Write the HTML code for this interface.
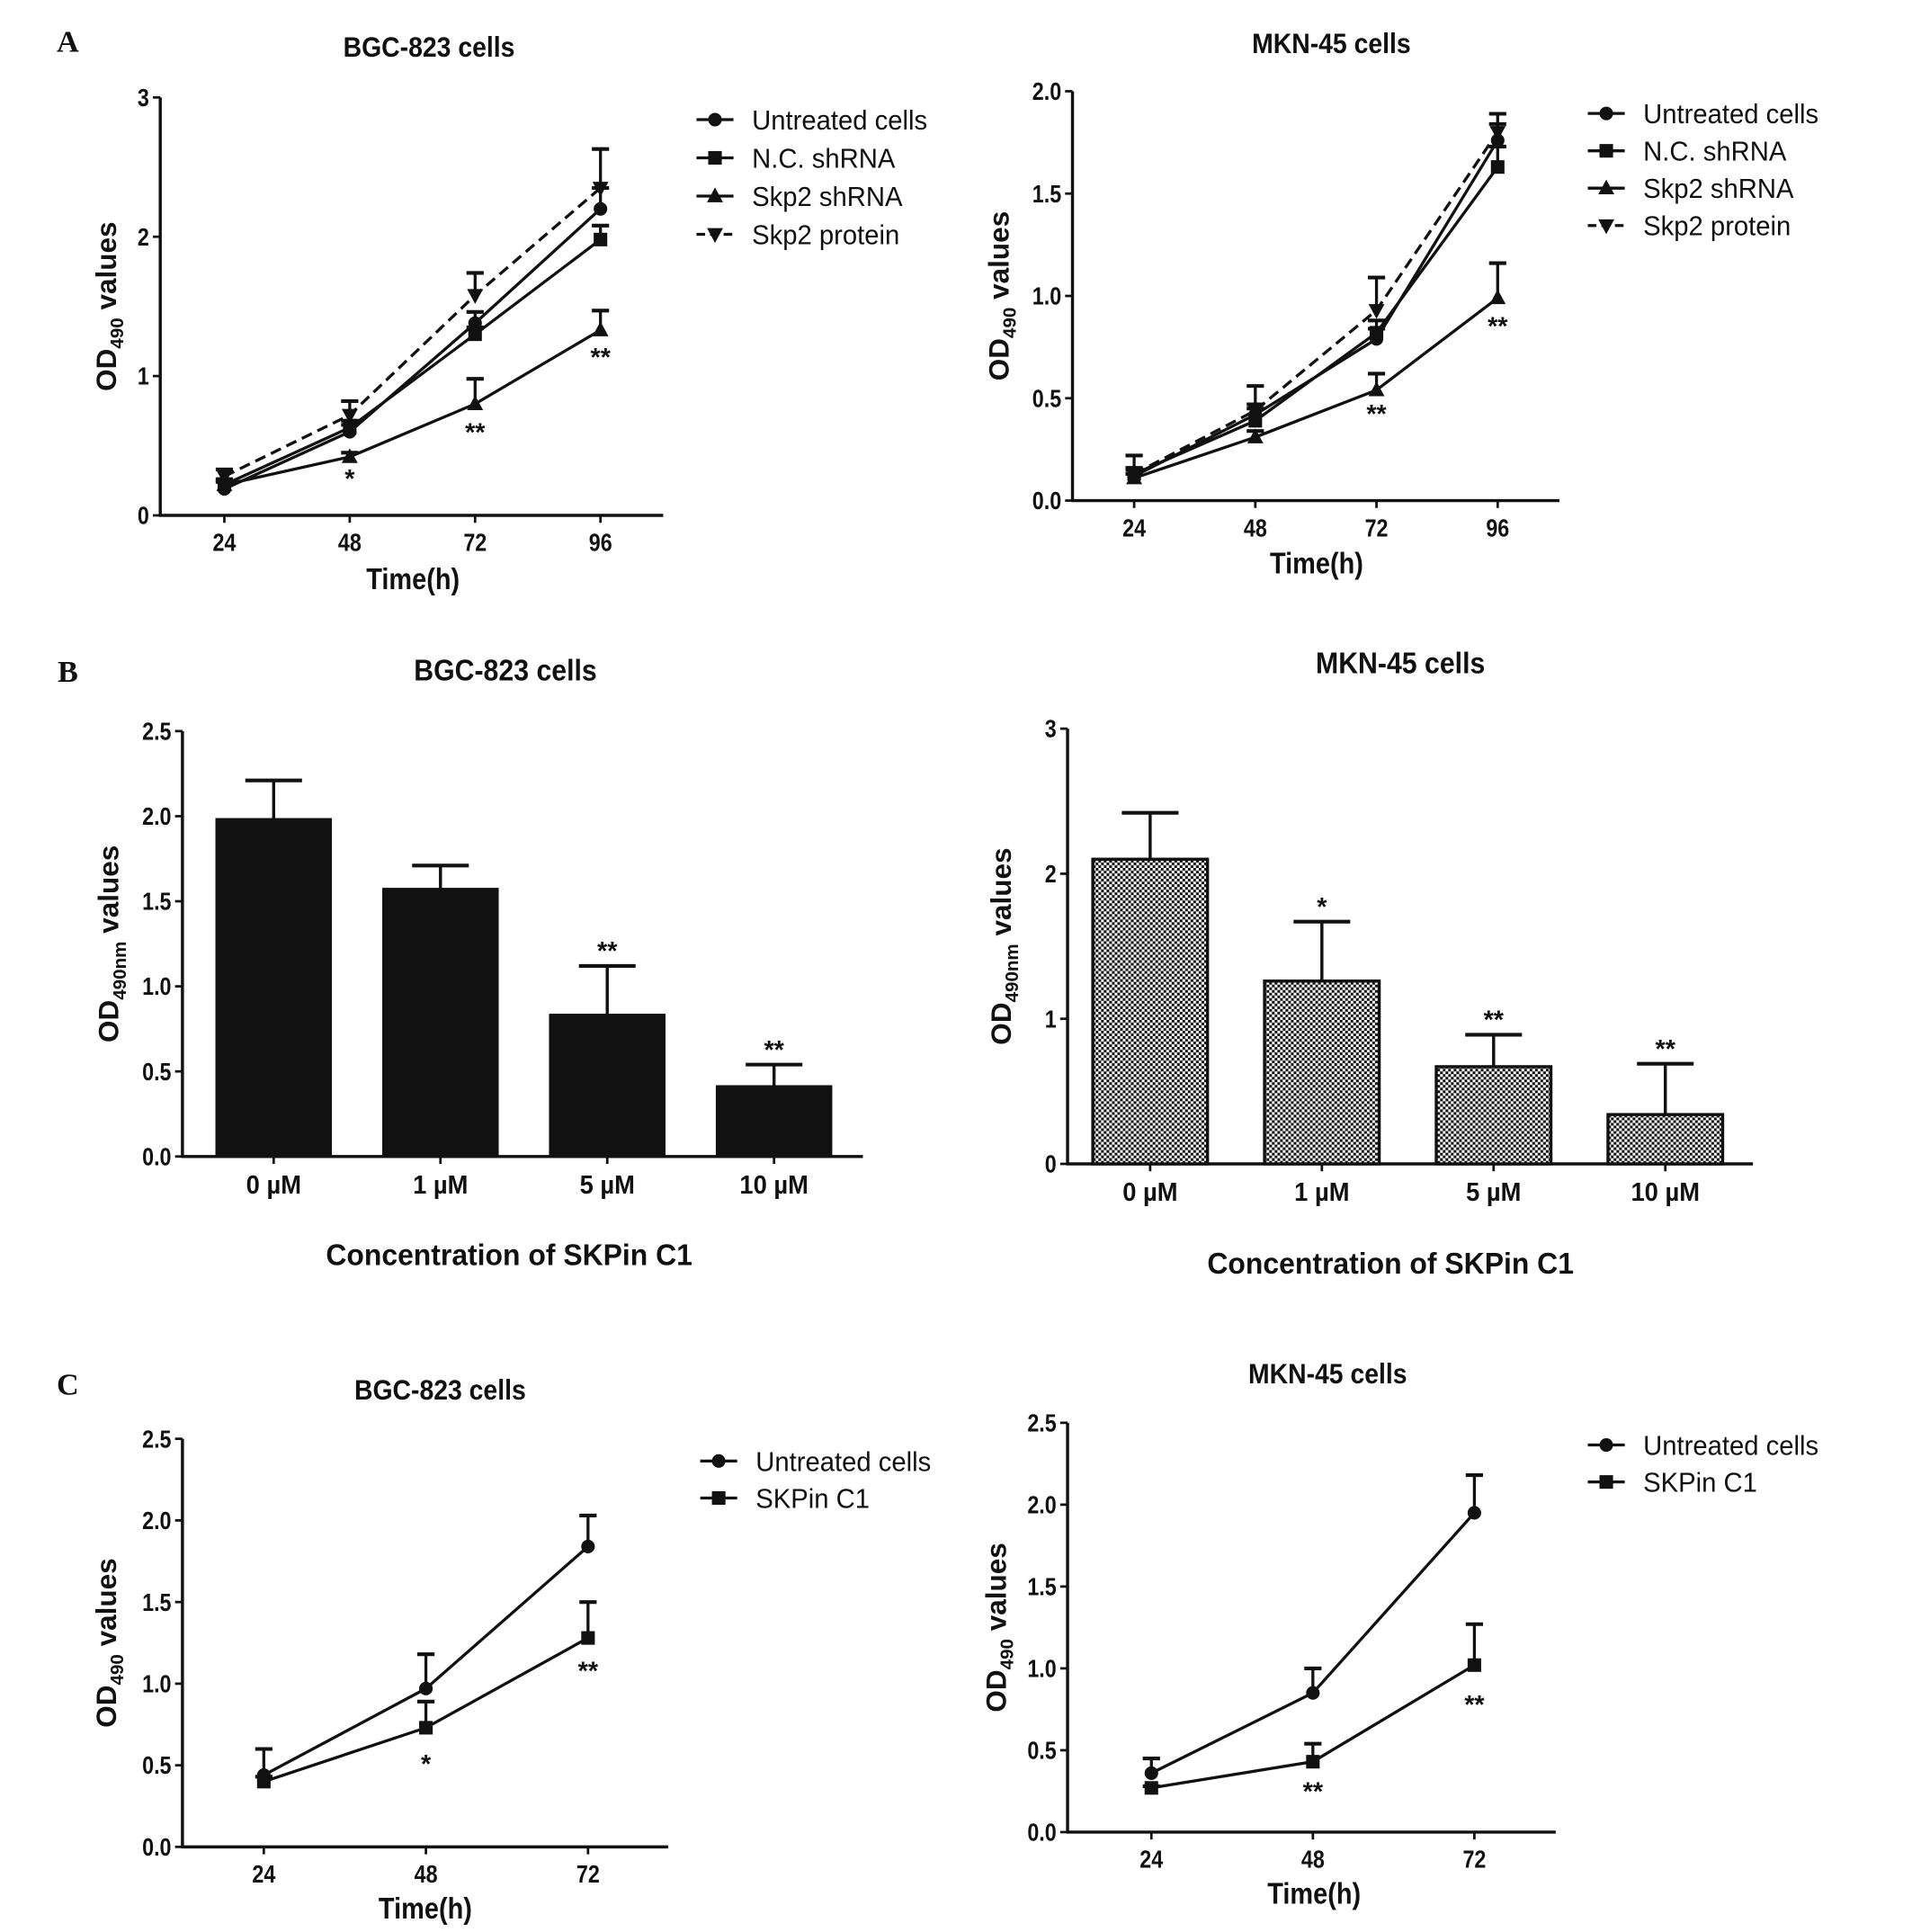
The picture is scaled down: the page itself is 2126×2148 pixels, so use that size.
<!DOCTYPE html>
<html><head><meta charset="utf-8">
<style>
html,body{margin:0;padding:0;background:#fff;}
svg{display:block;font-family:"Liberation Sans",Arial,sans-serif;}
</style></head>
<body>
<svg id="fig" width="2126" height="2148" viewBox="0 0 1551 1567" xmlns="http://www.w3.org/2000/svg">
<defs>
<pattern id="checker" width="4.4" height="4.4" patternUnits="userSpaceOnUse">
<rect width="4.4" height="4.4" fill="#fff"/>
<rect width="2.2" height="2.2" fill="#111"/>
<rect x="2.2" y="2.2" width="2.2" height="2.2" fill="#111"/>
</pattern>
</defs>
</svg>
<script>
// ---------- Data ----------
const timesA = ["24","48","72","96"];
const seriesNamesA = ["Untreated cells","N.C. shRNA","Skp2 shRNA","Skp2 protein"];
const a1Untreated = [0.19,0.60,1.38,2.20];
const a1UntreatedErr = [0.05,0.05,0.08,0.15];
const a1NC = [0.22,0.63,1.30,1.98];
const a1NCErr = [0.04,0.05,0.05,0.10];
const a1Skp2sh = [0.22,0.42,0.80,1.33];
const a1Skp2shErr = [0.03,0.03,0.18,0.14];
const a1Protein = [0.28,0.72,1.58,2.35];
const a1ProteinErr = [0.05,0.10,0.16,0.28];
const a1Stars = ["","*","**","**"];
const a1StarVals = [0,0.29,0.62,1.16];
const a1Ticks = [0,1,2,3];

const a2Untreated = [0.12,0.42,0.79,1.76];
const a2UntreatedErr = [0.03,0.05,0.05,0.08];
const a2NC = [0.13,0.39,0.82,1.63];
const a2NCErr = [0.03,0.06,0.06,0.1];
const a2Skp2sh = [0.11,0.31,0.54,0.99];
const a2Skp2shErr = [0.02,0.03,0.08,0.17];
const a2Protein = [0.13,0.44,0.93,1.80];
const a2ProteinErr = [0.09,0.12,0.16,0.09];
const a2Stars = ["","","**","**"];
const a2StarVals = [0,0,0.44,0.87];
const a2Ticks = [0,0.5,1.0,1.5,2.0];

const concB = ["0 µM","1 µM","5 µM","10 µM"];
const b1Vals = [1.98,1.57,0.83,0.41];
const b1Errs = [0.23,0.14,0.29,0.13];
const b1Stars = ["","","**","**"];
const b1Ticks = [0,0.5,1.0,1.5,2.0,2.5];
const b2Vals = [2.10,1.26,0.67,0.34];
const b2Errs = [0.32,0.41,0.22,0.35];
const b2Stars = ["","*","**","**"];
const b2Ticks = [0,1,2,3];

const timesC = ["24","48","72"];
const seriesNamesC = ["Untreated cells","SKPin C1"];
const c1Untreated = [0.44,0.97,1.84];
const c1UntreatedErr = [0.16,0.21,0.19];
const c1Skpin = [0.40,0.73,1.28];
const c1SkpinErr = [0.03,0.16,0.22];
const c1Stars = ["","*","**"];
const c1StarVals = [0,0.53,1.10];
const c2Untreated = [0.36,0.85,1.95];
const c2UntreatedErr = [0.09,0.15,0.23];
const c2Skpin = [0.27,0.43,1.02];
const c2SkpinErr = [0.01,0.11,0.25];
const c2Stars = ["","**","**"];
const c2StarVals = [0,0.27,0.80];
const cTicks = [0,0.5,1.0,1.5,2.0,2.5];

// ---------- Helpers ----------
const NS="http://www.w3.org/2000/svg";
const svg=document.getElementById('fig');
function el(tag,attrs,parent){const e=document.createElementNS(NS,tag);for(const k in attrs)e.setAttribute(k,attrs[k]);(parent||svg).appendChild(e);return e;}
function txt(parent,x,y,s,size,weight,anchor,sx,name){
  const t=el('text',{transform:`translate(${x},${y}) scale(${sx},1)`,'font-size':size,'font-weight':weight,'text-anchor':anchor,fill:'#111'},parent);
  t.textContent=s;
  
  
  return t;
}
function ylabel(parent,x,y,sub,name){
  const t=el('text',{transform:`translate(${x},${y}) rotate(-90)`,'font-size':23,'font-weight':'bold','text-anchor':'middle',fill:'#111'},parent);
  
  
  const a=el('tspan',{},t);a.textContent='OD';
  const b=el('tspan',{'font-size':15,dy:6},t);b.textContent=sub;
  const c=el('tspan',{dy:-6},t);c.textContent=' values';
}
function marker(parent,type,x,y,name){
  let m;
  if(type==='circle') m=el('circle',{cx:x,cy:y,r:5.5,fill:'#111'},parent);
  else if(type==='square') m=el('rect',{x:x-5.5,y:y-5.5,width:11,height:11,fill:'#111'},parent);
  else if(type==='tri') m=el('polygon',{points:`${x},${y-7} ${x-6.5},${y+5} ${x+6.5},${y+5}`,fill:'#111'},parent);
  else m=el('polygon',{points:`${x},${y+7} ${x-6.5},${y-5} ${x+6.5},${y-5}`,fill:'#111'},parent);
  
  
}
function axes(g,cfg){
  const {x0,x1,yTop,yBot,ymax,ticks,tickFmt}=cfg;
  const ys=v=>yBot-(v/ymax)*(yBot-yTop);
  const ya=el('line',{x1:x0,y1:yTop,x2:x0,y2:yBot+1,stroke:'#111','stroke-width':2.5},g);
  
  const xa=el('line',{x1:x0-1,y1:yBot,x2:x1,y2:yBot,stroke:'#111','stroke-width':2.5},g);
  
  ticks.forEach(v=>{
    el('line',{x1:x0-6,y1:ys(v),x2:x0,y2:ys(v),stroke:'#111','stroke-width':2},g);
    txt(g,x0-9,ys(v)+7,tickFmt(v),20,'bold','end',0.85,'y-tick-label');
  });
  return ys;
}
function lineChart(cfg){
  const g=el('g',{});
  
  
  const ys=axes(g,cfg);
  const xs=i=>cfg.xFirst+i*cfg.xStep;
  cfg.cats.forEach((c,i)=>{
    el('line',{x1:xs(i),y1:cfg.yBot,x2:xs(i),y2:cfg.yBot+6,stroke:'#111','stroke-width':2},g);
    txt(g,xs(i),cfg.yBot+29,c,20,'bold','middle',0.85,'x-tick-label');
  });
  cfg.series.forEach(s=>{
    const sg=el('g',{},g);
    
    
    const pts=s.vals.map((v,i)=>`${xs(i)},${ys(v)}`).join(' ');
    el('polyline',{points:pts,fill:'none',stroke:'#111','stroke-width':2.4,'stroke-dasharray':s.dash?'9,5':'none'},sg);
    s.vals.forEach((v,i)=>{
      const top=ys(v+s.errs[i]);
      el('line',{x1:xs(i),y1:ys(v),x2:xs(i),y2:top,stroke:'#111','stroke-width':2.4},sg);
      el('line',{x1:xs(i)-7,y1:top,x2:xs(i)+7,y2:top,stroke:'#111','stroke-width':3},sg);
      marker(sg,s.marker,xs(i),ys(v),'point-'+s.key);
    });
  });
  cfg.stars.forEach((s,i)=>{ if(s) txt(g,xs(i),ys(cfg.starVals[i])+10,s,21,'bold','middle',1,'significance-mark'); });
  txt(g,cfg.titleX,cfg.titleY,cfg.title,23,'bold','middle',0.9,'chart-title');
  txt(g,cfg.xTitleX,cfg.xTitleY,'Time(h)',24,'bold','middle',0.88,'x-axis-title');
  ylabel(g,cfg.yLabX,(cfg.yTop+cfg.yBot)/2,'490','y-axis-title');
  const lg=el('g',{},g);
  
  
  cfg.series.forEach((s,i)=>{
    const y=cfg.legY+i*cfg.legStep;
    const e=el('g',{},lg);
    
    
    el('line',{x1:cfg.legX-15,y1:y,x2:cfg.legX+15,y2:y,stroke:'#111','stroke-width':2.4,'stroke-dasharray':s.dash?'7,4':'none'},e);
    marker(e,s.marker,cfg.legX,y,'legend-marker');
    txt(e,cfg.legX+30,y+8,s.label,22,'normal','start',0.97,'legend-label');
  });
}
function barChart(cfg){
  const g=el('g',{});
  
  
  const ys=axes(g,cfg);
  const xs=i=>cfg.xFirst+i*cfg.xStep;
  cfg.cats.forEach((c,i)=>{
    const v=cfg.vals[i];
    const b=el('rect',{x:xs(i)-cfg.bw/2,y:ys(v),width:cfg.bw,height:cfg.yBot-ys(v),fill:cfg.fill,stroke:'#111','stroke-width':2.5},g);
    
    
    const top=ys(v+cfg.errs[i]);
    el('line',{x1:xs(i),y1:ys(v),x2:xs(i),y2:top,stroke:'#111','stroke-width':2.5},g);
    el('line',{x1:xs(i)-23,y1:top,x2:xs(i)+23,y2:top,stroke:'#111','stroke-width':3},g);
    if(cfg.stars[i]) txt(g,xs(i),top-5,cfg.stars[i],21,'bold','middle',1,'significance-mark');
    el('line',{x1:xs(i),y1:cfg.yBot,x2:xs(i),y2:cfg.yBot+6,stroke:'#111','stroke-width':2},g);
    txt(g,xs(i),cfg.yBot+30,c,21,'bold','middle',0.95,'x-tick-label');
  });
  txt(g,cfg.titleX,cfg.titleY,cfg.title,24,'bold','middle',0.92,'chart-title');
  txt(g,cfg.xTitleX,cfg.xTitleY,'Concentration of SKPin C1',24,'bold','middle',0.97,'x-axis-title');
  ylabel(g,cfg.yLabX,(cfg.yTop+cfg.yBot)/2,'490nm','y-axis-title');
}
const f1=v=>v.toFixed(1), f0=v=>String(v);
const panA=txt(svg,55,42,'A',25,'bold','middle',1,'panel-label-a'); panA.setAttribute('font-family','Liberation Serif');
const panB=txt(svg,55,553,'B',25,'bold','middle',1,'panel-label-b'); panB.setAttribute('font-family','Liberation Serif');
const panC=txt(svg,55,1131,'C',25,'bold','middle',1,'panel-label-c'); panC.setAttribute('font-family','Liberation Serif');

lineChart({name:'chart-a-bgc823',x0:130,x1:538,yTop:79,yBot:418,ymax:3,ticks:a1Ticks,tickFmt:f0,
  xFirst:182,xStep:101.7,cats:timesA,
  series:[
    {key:'untreated',label:seriesNamesA[0],vals:a1Untreated,errs:a1UntreatedErr,marker:'circle'},
    {key:'nc-shrna',label:seriesNamesA[1],vals:a1NC,errs:a1NCErr,marker:'square'},
    {key:'skp2-shrna',label:seriesNamesA[2],vals:a1Skp2sh,errs:a1Skp2shErr,marker:'tri'},
    {key:'skp2-protein',label:seriesNamesA[3],vals:a1Protein,errs:a1ProteinErr,marker:'itri',dash:true}],
  stars:a1Stars,starVals:a1StarVals,title:'BGC-823 cells',titleX:348,titleY:46,xTitleX:335,xTitleY:478,yLabX:94,
  legX:580,legY:97,legStep:31});
lineChart({name:'chart-a-mkn45',x0:870,x1:1265,yTop:74,yBot:406,ymax:2,ticks:a2Ticks,tickFmt:f1,
  xFirst:920,xStep:98.3,cats:timesA,
  series:[
    {key:'untreated',label:seriesNamesA[0],vals:a2Untreated,errs:a2UntreatedErr,marker:'circle'},
    {key:'nc-shrna',label:seriesNamesA[1],vals:a2NC,errs:a2NCErr,marker:'square'},
    {key:'skp2-shrna',label:seriesNamesA[2],vals:a2Skp2sh,errs:a2Skp2shErr,marker:'tri'},
    {key:'skp2-protein',label:seriesNamesA[3],vals:a2Protein,errs:a2ProteinErr,marker:'itri',dash:true}],
  stars:a2Stars,starVals:a2StarVals,title:'MKN-45 cells',titleX:1080,titleY:43,xTitleX:1068,xTitleY:465,yLabX:818,
  legX:1303,legY:92,legStep:30.3});
barChart({name:'chart-b-bgc823',x0:148,x1:700,yTop:593,yBot:938,ymax:2.5,ticks:b1Ticks,tickFmt:f1,
  xFirst:222,xStep:135.3,bw:92,cats:concB,vals:b1Vals,errs:b1Errs,stars:b1Stars,fill:'#111',
  title:'BGC-823 cells',titleX:410,titleY:552,xTitleX:413,xTitleY:1026,yLabX:96});
barChart({name:'chart-b-mkn45',x0:866,x1:1422,yTop:591,yBot:944,ymax:3,ticks:b2Ticks,tickFmt:f0,
  xFirst:933,xStep:139.3,bw:93,cats:concB,vals:b2Vals,errs:b2Errs,stars:b2Stars,fill:'url(#checker)',
  title:'MKN-45 cells',titleX:1136,titleY:546,xTitleX:1128,xTitleY:1033,yLabX:820});
lineChart({name:'chart-c-bgc823',x0:148,x1:542,yTop:1167,yBot:1498,ymax:2.5,ticks:cTicks,tickFmt:f1,
  xFirst:214,xStep:131.5,cats:timesC,
  series:[
    {key:'untreated',label:seriesNamesC[0],vals:c1Untreated,errs:c1UntreatedErr,marker:'circle'},
    {key:'skpin-c1',label:seriesNamesC[1],vals:c1Skpin,errs:c1SkpinErr,marker:'square'}],
  stars:c1Stars,starVals:c1StarVals,title:'BGC-823 cells',titleX:357,titleY:1135,xTitleX:345,xTitleY:1556,yLabX:94,
  legX:583,legY:1185,legStep:30});
lineChart({name:'chart-c-mkn45',x0:866,x1:1262,yTop:1154,yBot:1486,ymax:2.5,ticks:cTicks,tickFmt:f1,
  xFirst:934,xStep:131,cats:timesC,
  series:[
    {key:'untreated',label:seriesNamesC[0],vals:c2Untreated,errs:c2UntreatedErr,marker:'circle'},
    {key:'skpin-c1',label:seriesNamesC[1],vals:c2Skpin,errs:c2SkpinErr,marker:'square'}],
  stars:c2Stars,starVals:c2StarVals,title:'MKN-45 cells',titleX:1077,titleY:1122,xTitleX:1066,xTitleY:1544,yLabX:816,
  legX:1303,legY:1172,legStep:30});
</script>
</body></html>
